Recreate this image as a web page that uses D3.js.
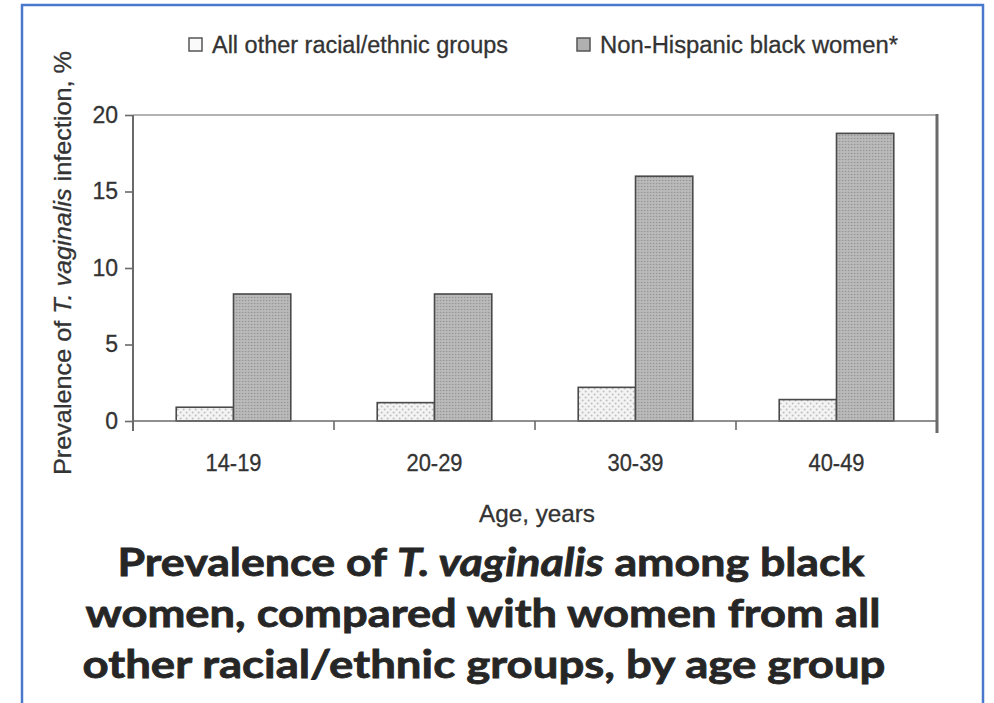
<!DOCTYPE html>
<html>
<head>
<meta charset="utf-8">
<script src="https://cdn.jsdelivr.net/npm/d3@7"></script>
<style>
  body { margin: 0; background: #fff; }
  svg { display: block; }
</style>
</head>
<body>
<script>
// data
var ageGroups = ["14-19", "20-29", "30-39", "40-49"];
var seriesNames = ["All other racial/ethnic groups", "Non-Hispanic black women*"];
var otherGroups = [0.9, 1.2, 2.2, 1.4];
var blackWomen = [8.3, 8.3, 16.0, 18.8];
var yTicks = [0, 5, 10, 15, 20];

var width = 994, height = 703;
var plotLeft = 133, plotRight = 937, plotTop = 115, plotBottom = 421;
var axisFont = "'Liberation Sans', Arial, sans-serif";
var ink = "#333";

var svg = d3.select("body").append("svg")
    .attr("width", width)
    .attr("height", height);

// patterns for the stippled bars
var defs = svg.append("defs");
var pLight = defs.append("pattern")
    .attr("id", "dotsLight")
    .attr("patternUnits", "userSpaceOnUse")
    .attr("width", 6).attr("height", 6);
pLight.append("rect").attr("width", 6).attr("height", 6).attr("fill", "#f4f4f4");
pLight.append("circle").attr("cx", 1.5).attr("cy", 1.5).attr("r", 0.9).attr("fill", "#b5b5b5");
pLight.append("circle").attr("cx", 4.5).attr("cy", 4.5).attr("r", 0.9).attr("fill", "#b5b5b5");

var pDark = defs.append("pattern")
    .attr("id", "dotsDark")
    .attr("patternUnits", "userSpaceOnUse")
    .attr("width", 3).attr("height", 3);
pDark.append("rect").attr("width", 3).attr("height", 3).attr("fill", "#b4b4b4");
pDark.append("rect").attr("x", 0).attr("y", 0).attr("width", 1).attr("height", 1).attr("fill", "#8e8e8e");
pDark.append("rect").attr("x", 1.5).attr("y", 1.5).attr("width", 1).attr("height", 1).attr("fill", "#cfcfcf");

// blue outer frame
svg.append("rect")
    .attr("x", 22).attr("y", 5)
    .attr("width", 961).attr("height", 720)
    .attr("fill", "none")
    .attr("stroke", "#4a78cc")
    .attr("stroke-width", 2.5);

// scales
var x0 = d3.scaleBand()
    .domain(ageGroups)
    .range([plotLeft, plotRight])
    .paddingInner(0.43)
    .paddingOuter(0.215);

var x1 = d3.scaleBand()
    .domain([0, 1])
    .range([0, x0.bandwidth()])
    .padding(0);

var y = d3.scaleLinear()
    .domain([0, 20])
    .range([plotBottom, plotTop]);

// frame lines: top thin, right heavy
svg.append("line")
    .attr("x1", plotLeft).attr("x2", plotRight)
    .attr("y1", plotTop).attr("y2", plotTop)
    .attr("stroke", "#9a9a9a").attr("stroke-width", 1.5);
svg.append("line")
    .attr("x1", plotRight).attr("x2", plotRight)
    .attr("y1", plotTop - 1).attr("y2", plotBottom + 12)
    .attr("stroke", "#6a6a6a").attr("stroke-width", 3);

// bars
var rows = ageGroups.map(function(g, i) {
    return { group: g, values: [otherGroups[i], blackWomen[i]] };
});

var groups = svg.append("g").selectAll("g")
    .data(rows)
    .enter().append("g")
    .attr("transform", function(d) { return "translate(" + x0(d.group) + ",0)"; });

groups.selectAll("rect")
    .data(function(d) { return d.values.map(function(v, k) { return { k: k, v: v }; }); })
    .enter().append("rect")
    .attr("x", function(d) { return x1(d.k); })
    .attr("y", function(d) { return y(d.v); })
    .attr("width", x1.bandwidth())
    .attr("height", function(d) { return plotBottom - y(d.v); })
    .attr("fill", function(d) { return d.k === 0 ? "url(#dotsLight)" : "url(#dotsDark)"; })
    .attr("stroke", "#4a4a4a")
    .attr("stroke-width", 1.6);

// y axis
var yAxis = svg.append("g")
    .attr("transform", "translate(" + plotLeft + ",0)")
    .call(d3.axisLeft(y).tickValues(yTicks).tickSize(8).tickPadding(7).tickSizeOuter(0));
yAxis.select(".domain").remove();
yAxis.append("line")
    .attr("x1", 0).attr("x2", 0)
    .attr("y1", plotTop).attr("y2", plotBottom + 10)
    .attr("stroke", "#6a6a6a").attr("stroke-width", 2);
yAxis.selectAll(".tick line").attr("stroke", "#6a6a6a").attr("stroke-width", 1.6);
yAxis.selectAll(".tick text")
    .attr("font-family", axisFont)
    .attr("font-size", 23)
    .attr("fill", ink)
    .attr("stroke", ink).attr("stroke-width", 0.3);

// x axis: labels under groups, ticks between groups
svg.append("line")
    .attr("x1", plotLeft).attr("x2", plotRight)
    .attr("y1", plotBottom).attr("y2", plotBottom)
    .attr("stroke", "#6a6a6a").attr("stroke-width", 1.6);

var boundaries = ageGroups.slice(1).map(function(g) {
    return x0(g) - x0.step() * x0.paddingInner() / 2;
});
svg.append("g").selectAll("line")
    .data(boundaries)
    .enter().append("line")
    .attr("x1", function(d) { return d; }).attr("x2", function(d) { return d; })
    .attr("y1", plotBottom).attr("y2", plotBottom + 9)
    .attr("stroke", "#6a6a6a").attr("stroke-width", 1.6);

svg.append("g").selectAll("text")
    .data(ageGroups)
    .enter().append("text")
    .attr("x", function(d) { return x0(d) + x0.bandwidth() / 2; })
    .attr("y", 471)
    .attr("text-anchor", "middle")
    .attr("font-family", axisFont)
    .attr("font-size", 23)
    .attr("fill", ink)
    .attr("stroke", ink).attr("stroke-width", 0.3)
    .attr("textLength", 56)
    .attr("lengthAdjust", "spacingAndGlyphs")
    .text(function(d) { return d; });

// axis titles
svg.append("text")
    .attr("x", 537).attr("y", 522)
    .attr("text-anchor", "middle")
    .attr("font-family", axisFont)
    .attr("font-size", 24)
    .attr("fill", ink)
    .attr("stroke", ink).attr("stroke-width", 0.3)
    .attr("textLength", 116)
    .attr("lengthAdjust", "spacingAndGlyphs")
    .text("Age, years");

var yTitle = svg.append("text")
    .attr("transform", "translate(71,263) rotate(-90)")
    .attr("text-anchor", "middle")
    .attr("font-family", axisFont)
    .attr("font-size", 24)
    .attr("fill", ink)
    .attr("stroke", ink).attr("stroke-width", 0.3)
    .attr("textLength", 424)
    .attr("lengthAdjust", "spacingAndGlyphs");
yTitle.append("tspan").text("Prevalence of ");
yTitle.append("tspan").attr("font-style", "italic").text("T. vaginalis");
yTitle.append("tspan").text(" infection, %");

// legend
var legendX = [189, 577];
var legendLen = [296, 298];
var legend = svg.append("g").selectAll("g")
    .data(seriesNames)
    .enter().append("g")
    .attr("transform", function(d, i) { return "translate(" + legendX[i] + ",38)"; });
legend.append("rect")
    .attr("width", 13).attr("height", 13)
    .attr("fill", function(d, i) { return i === 0 ? "#fafafa" : "#b0b0b0"; })
    .attr("stroke", "#555").attr("stroke-width", 1.5);
legend.append("text")
    .attr("x", 23).attr("y", 15)
    .attr("font-family", axisFont)
    .attr("font-size", 23)
    .attr("fill", ink)
    .attr("stroke", ink).attr("stroke-width", 0.3)
    .attr("textLength", function(d, i) { return legendLen[i]; })
    .attr("lengthAdjust", "spacingAndGlyphs")
    .text(function(d) { return d; });

// caption
var captionFont = "Lato, 'Noto Sans', sans-serif";
var captionLines = [
    [["Prevalence of ", false], ["T. vaginalis", true], [" among black", false]],
    [["women, compared with women from all", false]],
    [["other racial/ethnic groups, by age group", false]]
];
var captionX = [491, 483, 484];
var captionY = [576, 627, 678];
var captionLen = [747, 795, 803];

captionLines.forEach(function(parts, i) {
    var t = svg.append("text")
        .attr("x", captionX[i]).attr("y", captionY[i])
        .attr("text-anchor", "middle")
        .attr("font-family", captionFont)
        .attr("font-weight", "bold")
        .attr("font-size", 39)
        .attr("fill", "#262626")
        .attr("stroke", "#262626").attr("stroke-width", 0.8)
        .attr("textLength", captionLen[i])
        .attr("lengthAdjust", "spacingAndGlyphs");
    parts.forEach(function(p) {
        t.append("tspan")
            .attr("font-style", p[1] ? "italic" : null)
            .text(p[0]);
    });
});
</script>
</body>
</html>
